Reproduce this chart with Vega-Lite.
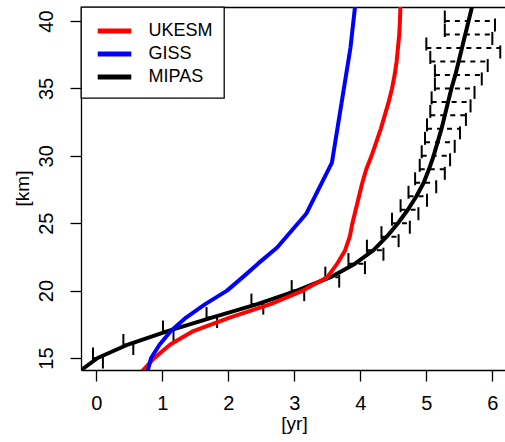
{
  "$schema": "https://vega.github.io/schema/vega-lite/v6.json",
  "width": 424,
  "height": 363,
  "autosize": {"type": "none"},
  "padding": {"left": 81, "top": 7, "right": 0, "bottom": 72},
  "background": "white",
  "config": {
    "view": {"stroke": null},
    "font": "Liberation Sans",
    "axis": {
      "domainColor": "black",
      "domainWidth": 1.3,
      "tickColor": "black",
      "tickWidth": 1.3,
      "tickSize": 11,
      "labelColor": "black",
      "labelFont": "Liberation Sans",
      "labelFontSize": 20,
      "titleColor": "black",
      "titleFont": "Liberation Sans",
      "titleFontSize": 19,
      "titleFontWeight": "normal",
      "grid": false
    },
    "legend": {
      "orient": "none",
      "legendX": 0,
      "legendY": 0,
      "fillColor": "white",
      "strokeColor": "black",
      "strokeWidth": 1.3,
      "padding": 11,
      "cornerRadius": 0,
      "symbolType": "M-1.6,0H1.6",
      "symbolSize": 441,
      "symbolStrokeWidth": 5,
      "symbolOffset": 9.5,
      "labelOffset": 21,
      "labelFont": "Liberation Sans",
      "labelFontSize": 18,
      "labelColor": "black",
      "rowPadding": 0,
      "title": null
    }
  },
  "datasets": {
    "profiles": [
      {"model": "MIPAS", "alt": 14, "age": -0.26},
      {"model": "MIPAS", "alt": 15, "age": 0.02},
      {"model": "MIPAS", "alt": 16, "age": 0.48},
      {"model": "MIPAS", "alt": 17, "age": 1.08},
      {"model": "MIPAS", "alt": 18, "age": 1.75},
      {"model": "MIPAS", "alt": 19, "age": 2.44},
      {"model": "MIPAS", "alt": 20, "age": 3.04},
      {"model": "MIPAS", "alt": 21, "age": 3.55},
      {"model": "MIPAS", "alt": 22, "age": 3.92},
      {"model": "MIPAS", "alt": 23, "age": 4.2},
      {"model": "MIPAS", "alt": 24, "age": 4.4},
      {"model": "MIPAS", "alt": 25, "age": 4.57},
      {"model": "MIPAS", "alt": 26, "age": 4.72},
      {"model": "MIPAS", "alt": 27, "age": 4.85},
      {"model": "MIPAS", "alt": 28, "age": 4.96},
      {"model": "MIPAS", "alt": 29, "age": 5.04},
      {"model": "MIPAS", "alt": 30, "age": 5.11},
      {"model": "MIPAS", "alt": 31, "age": 5.17},
      {"model": "MIPAS", "alt": 32, "age": 5.23},
      {"model": "MIPAS", "alt": 33, "age": 5.28},
      {"model": "MIPAS", "alt": 34, "age": 5.33},
      {"model": "MIPAS", "alt": 35, "age": 5.38},
      {"model": "MIPAS", "alt": 36, "age": 5.44},
      {"model": "MIPAS", "alt": 37, "age": 5.49},
      {"model": "MIPAS", "alt": 38, "age": 5.54},
      {"model": "MIPAS", "alt": 39, "age": 5.59},
      {"model": "MIPAS", "alt": 40, "age": 5.64},
      {"model": "MIPAS", "alt": 41, "age": 5.69},
      {"model": "UKESM", "alt": 14, "age": 0.69},
      {"model": "UKESM", "alt": 15, "age": 0.88},
      {"model": "UKESM", "alt": 16, "age": 1.12},
      {"model": "UKESM", "alt": 17, "age": 1.47},
      {"model": "UKESM", "alt": 18, "age": 2.02},
      {"model": "UKESM", "alt": 19, "age": 2.64},
      {"model": "UKESM", "alt": 20, "age": 3.13},
      {"model": "UKESM", "alt": 21, "age": 3.5},
      {"model": "UKESM", "alt": 22, "age": 3.65},
      {"model": "UKESM", "alt": 23, "age": 3.77},
      {"model": "UKESM", "alt": 24, "age": 3.84},
      {"model": "UKESM", "alt": 25, "age": 3.88},
      {"model": "UKESM", "alt": 26, "age": 3.93},
      {"model": "UKESM", "alt": 27, "age": 3.98},
      {"model": "UKESM", "alt": 28, "age": 4.03},
      {"model": "UKESM", "alt": 29, "age": 4.09},
      {"model": "UKESM", "alt": 30, "age": 4.17},
      {"model": "UKESM", "alt": 31, "age": 4.24},
      {"model": "UKESM", "alt": 32, "age": 4.31},
      {"model": "UKESM", "alt": 33, "age": 4.37},
      {"model": "UKESM", "alt": 34, "age": 4.43},
      {"model": "UKESM", "alt": 35, "age": 4.48},
      {"model": "UKESM", "alt": 36, "age": 4.52},
      {"model": "UKESM", "alt": 37, "age": 4.55},
      {"model": "UKESM", "alt": 38, "age": 4.57},
      {"model": "UKESM", "alt": 39, "age": 4.59},
      {"model": "UKESM", "alt": 40, "age": 4.6},
      {"model": "UKESM", "alt": 41.5, "age": 4.61},
      {"model": "GISS", "alt": 14, "age": 0.775},
      {"model": "GISS", "alt": 15, "age": 0.83},
      {"model": "GISS", "alt": 16, "age": 0.96},
      {"model": "GISS", "alt": 17, "age": 1.13},
      {"model": "GISS", "alt": 18, "age": 1.36},
      {"model": "GISS", "alt": 19, "age": 1.65},
      {"model": "GISS", "alt": 20, "age": 1.98},
      {"model": "GISS", "alt": 21, "age": 2.22},
      {"model": "GISS", "alt": 22, "age": 2.45},
      {"model": "GISS", "alt": 23.2, "age": 2.74},
      {"model": "GISS", "alt": 25.7, "age": 3.18},
      {"model": "GISS", "alt": 29.5, "age": 3.57},
      {"model": "GISS", "alt": 38, "age": 3.85},
      {"model": "GISS", "alt": 41.5, "age": 3.93}
    ],
    "mipas_err": [
      {"alt": 15, "lo": -0.05, "hi": 0.1},
      {"alt": 16, "lo": 0.41, "hi": 0.56},
      {"alt": 17, "lo": 1.01, "hi": 1.17},
      {"alt": 18, "lo": 1.67, "hi": 1.83},
      {"alt": 19, "lo": 2.35, "hi": 2.53},
      {"alt": 20, "lo": 2.96, "hi": 3.15},
      {"alt": 21, "lo": 3.47, "hi": 3.68},
      {"alt": 22, "lo": 3.82, "hi": 4.07},
      {"alt": 23, "lo": 4.1, "hi": 4.35},
      {"alt": 24, "lo": 4.32, "hi": 4.58},
      {"alt": 25, "lo": 4.48, "hi": 4.75},
      {"alt": 26, "lo": 4.61, "hi": 4.88},
      {"alt": 27, "lo": 4.73, "hi": 5.01},
      {"alt": 28, "lo": 4.83, "hi": 5.15},
      {"alt": 29, "lo": 4.9, "hi": 5.28},
      {"alt": 30, "lo": 4.93, "hi": 5.36},
      {"alt": 31, "lo": 4.98, "hi": 5.43},
      {"alt": 32, "lo": 5.01, "hi": 5.51},
      {"alt": 33, "lo": 5.06, "hi": 5.6},
      {"alt": 34, "lo": 5.08, "hi": 5.67},
      {"alt": 35, "lo": 5.13, "hi": 5.73},
      {"alt": 36, "lo": 5.13, "hi": 5.84},
      {"alt": 37, "lo": 5.06, "hi": 5.93},
      {"alt": 38, "lo": 5.0, "hi": 6.12},
      {"alt": 39, "lo": 5.28, "hi": 6.0},
      {"alt": 40, "lo": 5.28, "hi": 6.04}
    ]
  },
  "layer": [
    {
      "data": {"name": "mipas_err"},
      "mark": {"type": "rule", "color": "black", "opacity": 1, "strokeWidth": 2, "strokeDash": [5, 5], "clip": true},
      "encoding": {
        "x": {
          "field": "lo", "type": "quantitative",
          "scale": {"domain": [-0.232, 6.192], "nice": false, "zero": false},
          "axis": {"orient": "bottom", "values": [0, 1, 2, 3, 4, 5, 6], "labelPadding": 12, "title": "[yr]", "titleX": 213, "titleY": 59, "titleAlign": "center", "titleBaseline": "alphabetic", "titleAnchor": null}
        },
        "x2": {"field": "hi"},
        "y": {
          "field": "alt", "type": "quantitative",
          "scale": {"domain": [14.11, 41.04], "nice": false, "zero": false},
          "axis": {"values": [15, 20, 25, 30, 35, 40], "labelAngle": 270, "labelAlign": "center", "labelBaseline": "bottom", "labelPadding": 14, "title": "[km]", "titleAngle": 270, "titleX": -53, "titleY": 181, "titleAlign": "center", "titleBaseline": "alphabetic"}
        }
      }
    },
    {
      "data": {"name": "mipas_err"},
      "mark": {"type": "tick", "orient": "vertical", "color": "black", "opacity": 1, "size": 13, "thickness": 2, "yOffset": -4, "clip": true},
      "encoding": {
        "x": {"field": "lo", "type": "quantitative", "axis": {"orient": "top", "labels": false, "ticks": false, "title": null, "domain": true}},
        "y": {"field": "alt", "type": "quantitative"}
      }
    },
    {
      "data": {"name": "mipas_err"},
      "mark": {"type": "tick", "orient": "vertical", "color": "black", "opacity": 1, "size": 13, "thickness": 2, "yOffset": 4, "clip": true},
      "encoding": {
        "x": {"field": "hi", "type": "quantitative", "axis": null},
        "y": {"field": "alt", "type": "quantitative"}
      }
    },
    {
      "data": {"name": "profiles"},
      "transform": [{"filter": "datum.model === 'MIPAS'"}],
      "mark": {"type": "line", "strokeWidth": 4, "strokeCap": "round", "strokeJoin": "round", "clip": true},
      "encoding": {
        "x": {"field": "age", "type": "quantitative", "axis": null},
        "y": {"field": "alt", "type": "quantitative"},
        "order": {"field": "alt", "type": "quantitative"},
        "color": {"field": "model", "type": "nominal", "scale": {"domain": ["UKESM", "GISS", "MIPAS"], "range": ["#FF0000", "#0000FF", "#000000"]}}
      }
    },
    {
      "data": {"name": "profiles"},
      "transform": [{"filter": "datum.model === 'UKESM'"}],
      "mark": {"type": "line", "strokeWidth": 4, "strokeCap": "round", "strokeJoin": "round", "clip": true},
      "encoding": {
        "x": {"field": "age", "type": "quantitative", "axis": null},
        "y": {"field": "alt", "type": "quantitative"},
        "order": {"field": "alt", "type": "quantitative"},
        "color": {"field": "model", "type": "nominal"}
      }
    },
    {
      "data": {"name": "profiles"},
      "transform": [{"filter": "datum.model === 'GISS'"}],
      "mark": {"type": "line", "strokeWidth": 4, "strokeCap": "round", "strokeJoin": "round", "clip": true},
      "encoding": {
        "x": {"field": "age", "type": "quantitative", "axis": null},
        "y": {"field": "alt", "type": "quantitative"},
        "order": {"field": "alt", "type": "quantitative"},
        "color": {"field": "model", "type": "nominal"}
      }
    }
  ],
  "resolve": {"axis": {"x": "independent"}}
}
